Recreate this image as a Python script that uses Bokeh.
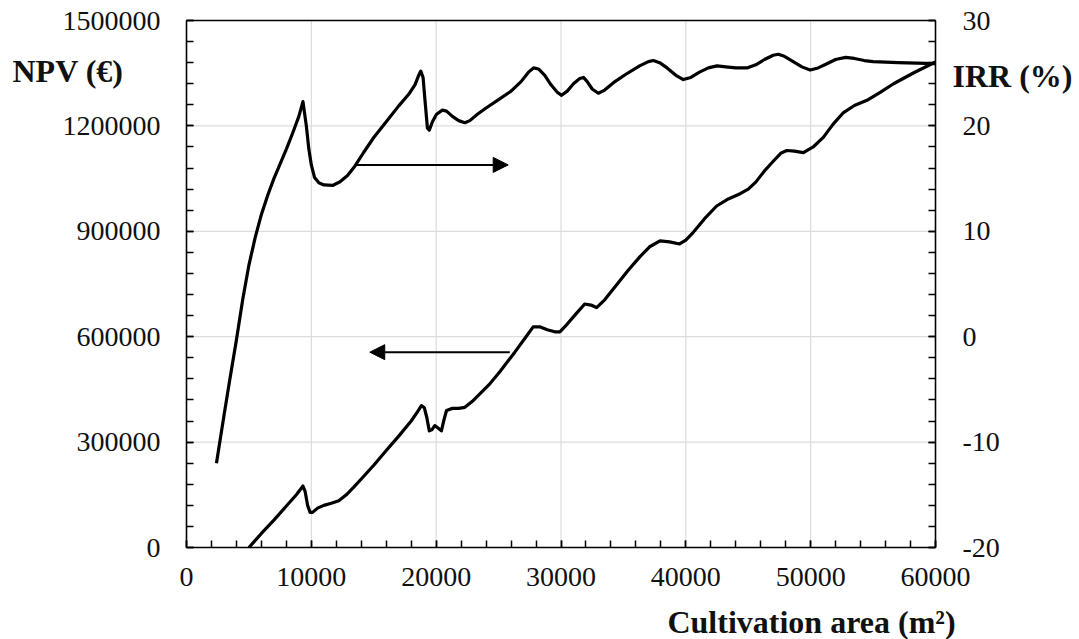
from bokeh.plotting import figure
from bokeh.models import (Range1d, LinearAxis, SingleIntervalTicker, FixedTicker,
                          PrintfTickFormatter, Label, Arrow, NormalHead)
from bokeh.embed import file_html
from bokeh.resources import INLINE

# ---- data ----
x_ticks = [0, 10000, 20000, 30000, 40000, 50000, 60000]
npv_ticks = [0, 300000, 600000, 900000, 1200000, 1500000]
irr_ticks = [-20, -10, 0, 10, 20, 30]

npv_area = [5000, 6000, 7000, 8000, 8800, 9330, 9500, 9700, 9900, 10100, 10500, 11000,
            11600, 12200, 12800, 13400, 14000, 15000, 16000, 17000, 18000, 18500, 18820,
            19050, 19250, 19450, 19650, 19890, 20150, 20420, 20600, 20830, 21300, 21800,
            22300, 22900, 23600, 24300, 25100, 26300, 27200, 27770, 28300, 28900, 29500,
            29910, 30500, 31200, 31900, 32400, 32850, 33500, 34460, 35400, 36330, 37100,
            37930, 38700, 39500, 40000, 40600, 41500, 42470, 43400, 44350, 45000, 45600,
            46300, 47020, 47600, 48090, 48700, 49420, 50200, 51030, 51800, 52630, 53500,
            54510, 55600, 56640, 58300, 60000]
npv_eur = [0, 40000, 78000, 118000, 150000, 175000, 160000, 120000, 100000, 100000, 112000, 120000,
           126000, 133000, 150000, 172000, 195000, 234000, 276000, 317000, 360000, 386000, 404000,
           398000, 370000, 332000, 335000, 347000, 340000, 332000, 360000, 390000, 396000, 396000,
           399000, 416000, 441000, 466000, 500000, 556000, 600000, 628000, 628000, 620000, 614000,
           614000, 636000, 665000, 693000, 690000, 683000, 705000, 748000, 790000, 828000, 856000,
           873000, 870000, 864000, 875000, 897000, 936000, 972000, 992000, 1007000, 1020000, 1040000,
           1072000, 1100000, 1122000, 1130000, 1128000, 1124000, 1140000, 1168000, 1205000, 1238000, 1258000,
           1273000, 1296000, 1320000, 1352000, 1382000]

irr_area = [2400, 3000, 3450, 4000, 4500, 5000, 5500, 6000, 6500, 7000, 7500, 8000, 8500,
            9000, 9330, 9600, 9800, 10000, 10260, 10600, 11000, 11700, 12300, 12900, 13500,
            14200, 15000, 16000, 17000, 17800, 18300, 18600, 18770, 18950, 19100, 19300,
            19450, 19700, 20030, 20500, 20830, 21300, 21800, 22300, 22700, 23300, 24000,
            25000, 26000, 26800, 27400, 27800, 28200, 28700, 29200, 29700, 30050, 30500,
            31000, 31500, 31800, 32100, 32500, 32990, 33500, 34200, 35200, 36300, 37000,
            37400, 37900, 38500, 39200, 39800, 40400, 41100, 41800, 42500, 43200, 44000,
            44900, 45600, 46300, 47000, 47400, 47900, 48600, 49300, 49960, 50600, 51300,
            52000, 52800, 53500, 54300, 55000, 57000, 60000]
irr_pct = [-12.0, -7.5, -4.2, -0.3, 3.5, 6.8, 9.4, 11.6, 13.4, 15.0, 16.4, 17.8, 19.3,
           20.9, 22.3, 20.0, 17.8, 16.3, 15.1, 14.6, 14.4, 14.35, 14.7, 15.3, 16.2,
           17.5, 18.9, 20.4, 21.9, 23.0, 23.9, 24.8, 25.2, 24.6, 22.5, 19.8,
           19.6, 20.4, 21.1, 21.5, 21.4, 20.9, 20.5, 20.3, 20.5, 21.1, 21.7,
           22.5, 23.3, 24.2, 25.1, 25.5, 25.4, 24.8, 23.9, 23.2, 22.9, 23.3,
           24.0, 24.5, 24.6, 24.2, 23.5, 23.1, 23.4, 24.1, 24.9, 25.7, 26.1,
           26.2, 26.0, 25.5, 24.8, 24.4, 24.6, 25.1, 25.5, 25.7, 25.6, 25.5,
           25.5, 25.8, 26.3, 26.7, 26.8, 26.6, 26.1, 25.6, 25.3, 25.5, 25.9,
           26.3, 26.5, 26.4, 26.2, 26.1, 26.0, 25.9]

FONT = "Liberation Serif"

# ---- layout (pixel box of the plot area inside the 1079x639 canvas) ----
W, H = 1079, 639
PX_L, PX_R, PX_T, PX_B = 186, 935, 20, 547

xmin, xmax = x_ticks[0], x_ticks[-1]
ymin, ymax = npv_ticks[0], npv_ticks[-1]
imin, imax = irr_ticks[0], irr_ticks[-1]


def extend(lo, hi, p_lo, p_hi, total_lo, total_hi):
    s = (hi - lo) / (p_hi - p_lo)
    return lo - (p_lo - total_lo) * s, hi + (total_hi - p_hi) * s


x0, x1 = extend(xmin, xmax, PX_L, PX_R, 0, W)
y0, y1 = extend(ymin, ymax, H - PX_B, H - PX_T, 0, H)
i0, i1 = extend(imin, imax, H - PX_B, H - PX_T, 0, H)

p = figure(width=W, height=H, output_backend="svg", toolbar_location=None,
           x_range=Range1d(x0, x1), y_range=Range1d(y0, y1),
           x_axis_type=None, y_axis_type=None)
p.min_border = 0
p.background_fill_color = "white"
p.border_fill_color = "white"
p.outline_line_color = None
p.extra_y_ranges = {"irr": Range1d(i0, i1)}

# grid lines inside the plot box
gx = x_ticks[1:-1]
p.segment(x0=gx, y0=[ymin] * len(gx), x1=gx, y1=[ymax] * len(gx),
          line_color="#dcdcdc", line_width=1.2)
gy = npv_ticks[1:-1]
p.segment(x0=[xmin] * len(gy), y0=gy, x1=[xmax] * len(gy), y1=gy,
          line_color="#dcdcdc", line_width=1.2)


def style_axis(ax):
    ax.axis_line_color = "black"
    ax.axis_line_width = 1.6
    ax.major_tick_in = 7
    ax.major_tick_out = 0
    ax.minor_tick_in = 7
    ax.minor_tick_out = 0
    ax.major_tick_line_color = "black"
    ax.minor_tick_line_color = "black"
    ax.major_tick_line_width = 1.5
    ax.minor_tick_line_width = 1.5
    ax.major_label_text_font = FONT
    ax.major_label_text_font_size = "28px"
    ax.major_label_text_color = "#111111"


xaxis = LinearAxis(ticker=SingleIntervalTicker(interval=10000, num_minor_ticks=5),
                   formatter=PrintfTickFormatter(format="%d"),
                   fixed_location=ymin, bounds=(xmin, xmax))
style_axis(xaxis)
xaxis.major_label_standoff = 20
p.add_layout(xaxis, "below")

yaxis = LinearAxis(ticker=SingleIntervalTicker(interval=300000, num_minor_ticks=5),
                   formatter=PrintfTickFormatter(format="%d"),
                   fixed_location=xmin, bounds=(ymin, ymax))
style_axis(yaxis)
yaxis.major_label_standoff = 26
p.add_layout(yaxis, "left")

raxis = LinearAxis(y_range_name="irr", ticker=SingleIntervalTicker(interval=10, num_minor_ticks=5),
                   formatter=PrintfTickFormatter(format="%d"),
                   fixed_location=xmax, bounds=(imin, imax))
style_axis(raxis)
raxis.major_label_standoff = 27
p.add_layout(raxis, "right")

taxis = LinearAxis(ticker=FixedTicker(ticks=[]), fixed_location=ymax, bounds=(xmin, xmax))
taxis.axis_line_color = "black"
taxis.axis_line_width = 1.6
taxis.major_tick_in = 0
taxis.major_tick_out = 0
taxis.minor_tick_in = 0
taxis.minor_tick_out = 0
taxis.major_label_text_font_size = "0px"
p.add_layout(taxis, "above")

p.line(npv_area, npv_eur, line_color="black", line_width=3.2, line_join="round")
p.line(irr_area, irr_pct, line_color="black", line_width=3.2, line_join="round", y_range_name="irr")

p.add_layout(Arrow(end=NormalHead(size=15, fill_color="black", line_color="black"),
                   x_start=13610, y_start=16.3, x_end=25770, y_end=16.3,
                   line_width=2, line_color="black", y_range_name="irr"))
p.add_layout(Arrow(end=NormalHead(size=15, fill_color="black", line_color="black"),
                   x_start=25900, y_start=556000, x_end=14680, y_end=556000,
                   line_width=2, line_color="black"))

# axis titles, canvas coordinates
for txt, cx, cy, align in [("NPV (€)", 12, 70, "left"),
                           ("IRR (%)", 952, 75, "left"),
                           ("Cultivation area (m²)", 811, 621, "center")]:
    p.add_layout(Label(x=cx, y=cy, x_units="canvas", y_units="canvas", text=txt,
                       text_font=FONT, text_font_style="bold", text_font_size="32px",
                       text_align=align, text_baseline="middle", text_color="#111111"))

open("out.html", "w").write(file_html(p, INLINE))
